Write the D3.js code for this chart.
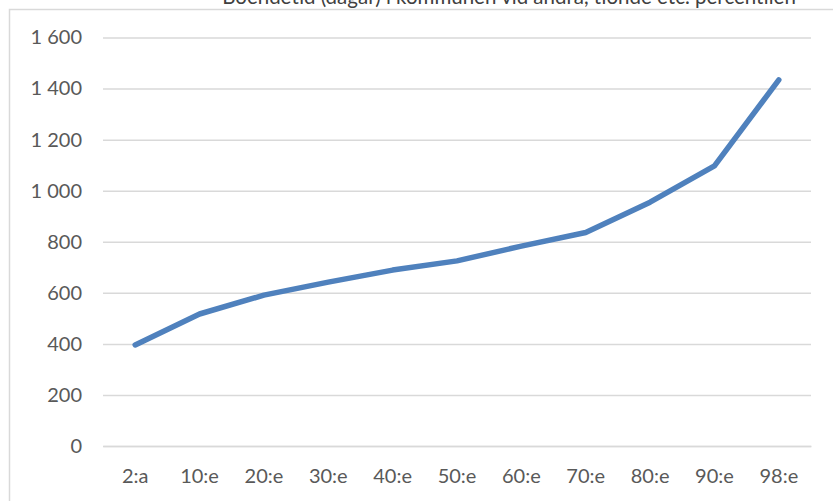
<!DOCTYPE html>
<html>
<head>
<meta charset="utf-8">
<script src="https://cdn.jsdelivr.net/npm/d3@7"></script>
<style>
  html, body { margin: 0; padding: 0; background: #fff; }
  svg { display: block; font-family: Lato, "Open Sans", sans-serif; }
</style>
</head>
<body>
<svg id="chart" width="833" height="501"></svg>
<script>
// Percentile categories and residence time in days
const categories = ["2:a", "10:e", "20:e", "30:e", "40:e", "50:e", "60:e", "70:e", "80:e", "90:e", "98:e"];
const days = [396, 517, 591, 642, 689, 725, 783, 836, 955, 1097, 1434];
const yTicks = [0, 200, 400, 600, 800, 1000, 1200, 1400, 1600];
const title = "Boendetid (dagar) i kommunen vid andra, tionde etc. percentilen";

const svg = d3.select("#chart");
const W = 833, H = 501;
const plot = { left: 103, right: 811, top: 37.5, bottom: 446 };

// Outer chart frame
svg.append("rect")
  .attr("x", 9.5).attr("y", 9.5)
  .attr("width", W).attr("height", H)
  .attr("fill", "none").attr("stroke", "#d9d9d9").attr("stroke-width", 1.5);

// Title
svg.append("text")
  .attr("x", 509).attr("y", 4)
  .attr("text-anchor", "middle")
  .attr("font-size", 20.5)
  .attr("fill", "#404040")
  .text(title);

const x = d3.scaleBand().domain(categories).range([plot.left, plot.right]);
const y = d3.scaleLinear().domain([0, 1600]).range([plot.bottom, plot.top]);

// Horizontal gridlines with value labels
const yAxis = d3.axisLeft(y)
  .tickValues(yTicks)
  .tickSize(-(plot.right - plot.left))
  .tickPadding(21)
  .tickFormat(d => d3.format(",")(d).replace(/,/g, "\u00a0"));

const gy = svg.append("g")
  .attr("transform", `translate(${plot.left},0)`)
  .call(yAxis);
gy.select(".domain").remove();
gy.selectAll(".tick line").attr("stroke", "#d9d9d9").attr("stroke-width", 1.5);
gy.selectAll(".tick text").attr("font-size", 20).attr("fill", "#595959")
  .attr("font-family", "Lato, 'Open Sans', sans-serif");

// Category axis
const xAxis = d3.axisBottom(x).tickSize(0).tickPadding(23);
const gx = svg.append("g")
  .attr("transform", `translate(0,${plot.bottom})`)
  .call(xAxis);
gx.select(".domain").attr("stroke", "#d9d9d9").attr("stroke-width", 1.5);
gx.selectAll(".tick text").attr("font-size", 20).attr("fill", "#595959")
  .attr("font-family", "Lato, 'Open Sans', sans-serif");

// Data line
const line = d3.line()
  .x((d, i) => x(categories[i]) + x.bandwidth() / 2)
  .y(d => y(d));

svg.append("path")
  .datum(days)
  .attr("d", line)
  .attr("fill", "none")
  .attr("stroke", "#4f81bd")
  .attr("stroke-width", 5.5)
  .attr("stroke-linecap", "round")
  .attr("stroke-linejoin", "round");
</script>
</body>
</html>
